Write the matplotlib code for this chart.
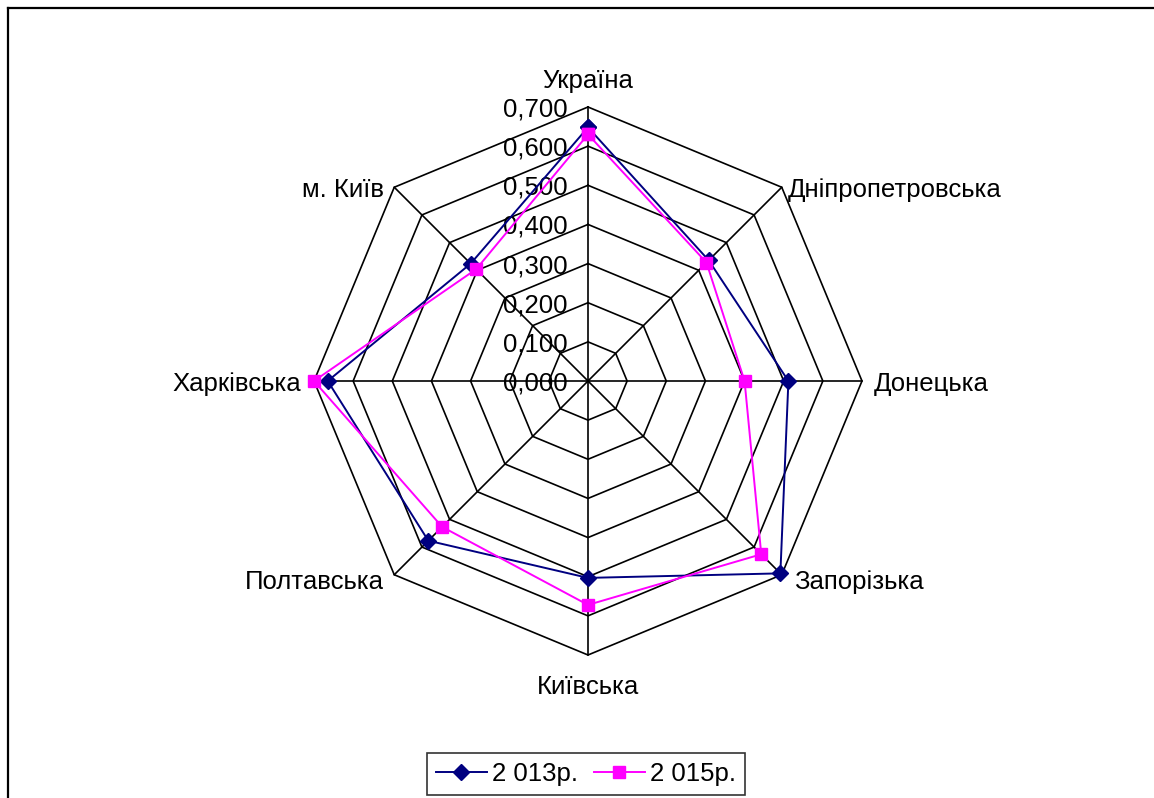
import numpy as np
import matplotlib
matplotlib.use("Agg")
import matplotlib.pyplot as plt
from matplotlib.lines import Line2D

categories = ["Україна", "Дніпропетровська", "Донецька", "Запорізька",
              "Київська", "Полтавська", "Харківська", "м. Київ"]
values_2013 = [0.648, 0.436, 0.512, 0.695, 0.503, 0.577, 0.665, 0.424]
values_2015 = [0.630, 0.428, 0.400, 0.626, 0.572, 0.527, 0.700, 0.404]
series_labels = ["2 013р.", "2 015р."]
ring_values = [0.0, 0.1, 0.2, 0.3, 0.4, 0.5, 0.6, 0.7]
ring_labels = ["0,000", "0,100", "0,200", "0,300", "0,400", "0,500", "0,600", "0,700"]

plt.rcParams['font.family'] = ['Liberation Sans', 'DejaVu Sans']
FS = 18.5

fig = plt.figure(figsize=(11.54, 7.98), dpi=100)
# figure border (top and left visible)
fig.add_artist(Line2D([8/1154, 8/1154], [0, 1-8/798], color='black', lw=1.6))
fig.add_artist(Line2D([8/1154, 1], [1-8/798, 1-8/798], color='black', lw=1.6))

cx, cy, R = 588/1154, 1-381/798, 274
w, h = 2*R/1154, 2*R/798
ax = fig.add_axes([cx - w/2, cy - h/2, w, h], projection='polar')
ax.set_theta_zero_location('N')
ax.set_theta_direction(-1)
ax.set_ylim(0, 0.7)
ax.set_axis_off()

n = len(categories)
angles = np.linspace(0, 2*np.pi, n, endpoint=False)
closed = np.concatenate([angles, angles[:1]])

# polygon grid
for rv in ring_values[1:]:
    ax.plot(closed, [rv]*(n+1), color='black', lw=1.2, clip_on=False, zorder=1)
for a in angles:
    ax.plot([a, a], [0, 0.7], color='black', lw=1.2, clip_on=False, zorder=1)

# ring labels
for rv, lab in zip(ring_values, ring_labels):
    ax.annotate(lab, xy=(0, rv), xytext=(-20, 0), textcoords='offset pixels',
                ha='right', va='center_baseline', fontsize=FS, zorder=2)

# category labels
offsets = [(0, 14, 'center', 'bottom'), (6, 0, 'left', 'center_baseline'),
           (12, 0, 'left', 'center_baseline'), (12, -5, 'left', 'center_baseline'),
           (0, -20, 'center', 'top'), (-10, -5, 'right', 'center_baseline'),
           (-13, 0, 'right', 'center_baseline'), (-10, 0, 'right', 'center_baseline')]
for a, lab, (dx, dy, ha, va) in zip(angles, categories, offsets):
    ax.annotate(lab, xy=(a, 0.7), xytext=(dx, dy), textcoords='offset pixels',
                ha=ha, va=va, fontsize=FS)

v13 = np.concatenate([values_2013, values_2013[:1]])
v15 = np.concatenate([values_2015, values_2015[:1]])
l1, = ax.plot(closed, v13, color='#000080', lw=1.4, marker='D', markersize=8,
              label=series_labels[0], clip_on=False, zorder=3)
l2, = ax.plot(closed, v15, color='#FF00FF', lw=1.4, marker='s', markersize=8,
              label=series_labels[1], clip_on=False, zorder=4)

leg = fig.legend(handles=[l1, l2], loc='center', bbox_to_anchor=(586/1154, 1-774/798),
                 ncol=2, frameon=True, fancybox=False, fontsize=FS,
                 handlelength=2.0, handletextpad=0.2, columnspacing=0.6,
                 borderpad=0.35, borderaxespad=0, edgecolor='black')
leg.get_frame().set_linewidth(1.2)

fig.savefig("out.png", dpi=100, facecolor='white')
